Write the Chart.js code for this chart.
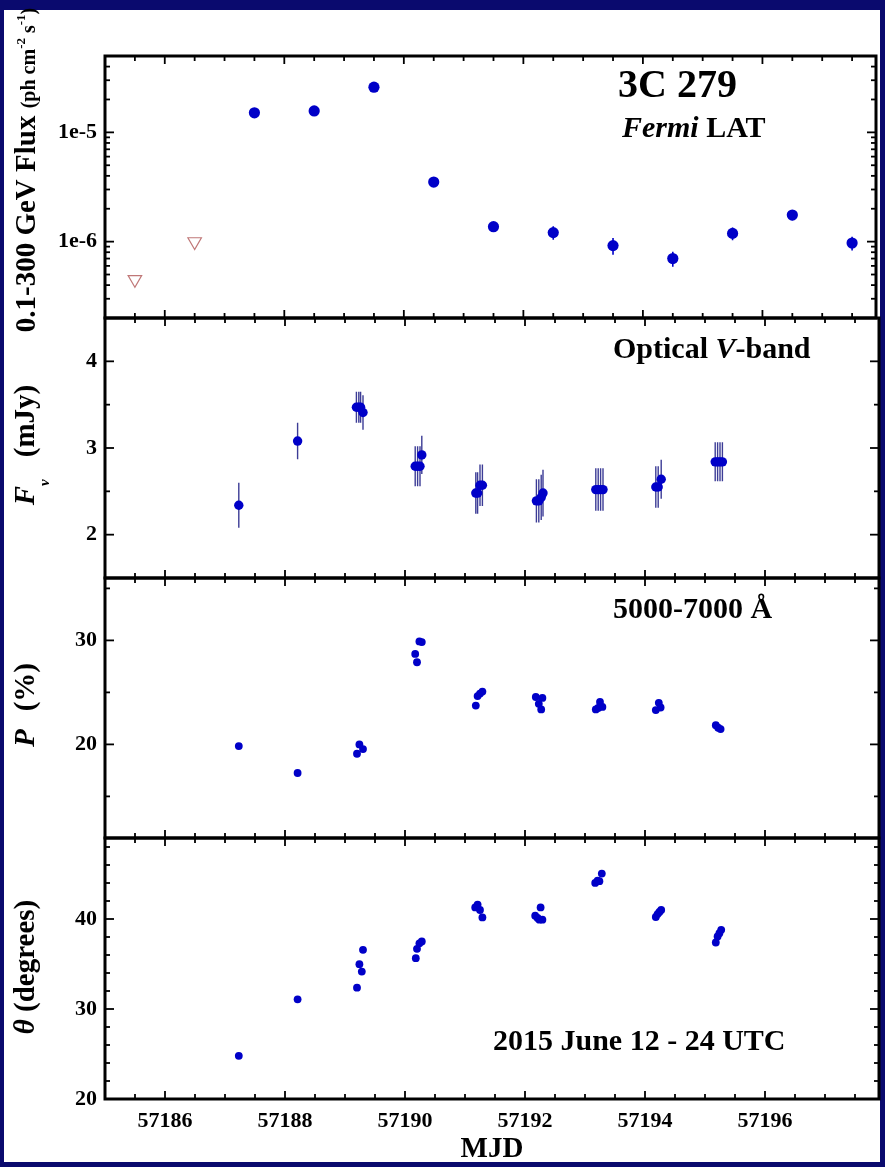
<!DOCTYPE html>
<html><head><meta charset="utf-8">
<script src="https://cdn.jsdelivr.net/npm/chart.js@4.4.1/dist/chart.umd.min.js"></script>
<style>
html,body{margin:0;padding:0;background:#0a0a6e;width:885px;height:1167px;overflow:hidden;}
#paper{position:absolute;left:4px;top:10px;width:876px;height:1152px;background:#fff;}
canvas{position:absolute;left:0;top:0;}
</style></head><body>
<div id="paper"></div>
<canvas id="c1" width="885" height="1167"></canvas>
<canvas id="c2" width="885" height="1167"></canvas>
<canvas id="c3" width="885" height="1167"></canvas>
<canvas id="c4" width="885" height="1167"></canvas>
<script>
// ---------------- data ----------------
const xTickValues = [57186, 57188, 57190, 57192, 57194, 57196];

const fermiMJD  = [57187.5, 57188.5, 57189.5, 57190.5, 57191.5, 57192.5, 57193.5, 57194.5, 57195.5, 57196.5, 57197.5];
const fermiFlux = [1.51e-5, 1.57e-5, 2.59e-5, 3.51e-6, 1.37e-6, 1.21e-6, 9.2e-7, 7.0e-7, 1.19e-6, 1.75e-6, 9.7e-7];
const fermiErr  = [0.08e-5, 0.08e-5, 0.12e-5, 0.25e-6, 0.12e-6, 0.17e-6, 0.16e-6, 0.11e-6, 0.16e-6, 0.18e-6, 0.14e-6];
const ulMJD  = [57185.5, 57186.5];
const ulFlux = [4.5e-7, 1.0e-6];
const fluxTicks = [1e-6, 1e-5];

const optMJD  = [57187.23, 57188.21, 57189.19, 57189.23, 57189.26, 57189.30, 57190.17, 57190.21, 57190.25, 57190.28,
                 57191.18, 57191.21, 57191.25, 57191.29, 57192.19, 57192.23, 57192.27, 57192.30, 57193.18, 57193.22,
                 57193.26, 57193.30, 57194.18, 57194.22, 57194.27, 57195.17, 57195.21, 57195.25, 57195.29];
const optFlux = [2.34, 3.08, 3.47, 3.47, 3.47, 3.41, 2.79, 2.79, 2.79, 2.92,
                 2.48, 2.48, 2.57, 2.57, 2.39, 2.39, 2.43, 2.48, 2.52, 2.52,
                 2.52, 2.52, 2.55, 2.55, 2.64, 2.84, 2.84, 2.84, 2.84];
const optErr  = [0.26, 0.21, 0.18, 0.18, 0.18, 0.20, 0.23, 0.23, 0.23, 0.22,
                 0.24, 0.24, 0.24, 0.24, 0.25, 0.25, 0.26, 0.27, 0.245, 0.245,
                 0.245, 0.245, 0.24, 0.24, 0.225, 0.225, 0.225, 0.225, 0.225];
const optTicks = [2, 3, 4];

const polMJD = [57187.23, 57188.21, 57189.20, 57189.24, 57189.30, 57190.17, 57190.20, 57190.24, 57190.28,
                57191.18, 57191.21, 57191.25, 57191.29, 57192.18, 57192.23, 57192.27, 57192.29,
                57193.18, 57193.22, 57193.25, 57193.29, 57194.18, 57194.23, 57194.26, 57195.18, 57195.22, 57195.26];
const polP   = [19.84, 17.25, 19.1, 20.0, 19.55, 28.7, 27.9, 29.9, 29.84,
                23.73, 24.65, 24.89, 25.08, 24.56, 23.9, 23.36, 24.47,
                23.36, 23.5, 24.08, 23.6, 23.3, 24.0, 23.55, 21.85, 21.6, 21.47];
const polTicks = [20, 30];

const paMJD   = [57187.23, 57188.21, 57189.20, 57189.24, 57189.28, 57189.30, 57190.18, 57190.20, 57190.24, 57190.28,
                 57191.17, 57191.21, 57191.25, 57191.29, 57192.17, 57192.21, 57192.24, 57192.26, 57192.29,
                 57193.17, 57193.21, 57193.24, 57193.28, 57194.18, 57194.21, 57194.24, 57194.27,
                 57195.18, 57195.21, 57195.24, 57195.27];
const paTheta = [24.8, 31.08, 32.37, 34.98, 34.16, 36.58, 35.65, 36.69, 37.3, 37.5,
                 41.29, 41.6, 41.0, 40.18, 40.37, 40.11, 39.92, 41.29, 39.92,
                 44.01, 44.27, 44.2, 45.05, 40.22, 40.55, 40.78, 41.0,
                 37.39, 38.06, 38.43, 38.8];
const paTicks = [20, 30, 40];

// ---------------- helpers ----------------
const FAM = '"Liberation Serif", "Times New Roman", serif';
const f = (sz, it) => (it ? 'italic ' : '') + 'bold ' + sz + 'px ' + FAM;
const BLUE = '#0000c8';
const tickFont = {family: FAM, weight: 'bold', size: 22};

const pts = (xs, ys) => xs.map((x, i) => ({x: x, y: ys[i]}));
function errSegs(xs, ys, es) {
  const out = [];
  xs.forEach((x, i) => { out.push({x: x, y: ys[i] - es[i]}, {x: x, y: ys[i] + es[i]}, {x: x, y: null}); });
  return out;
}
function richWidth(ctx, segs) {
  let w = 0;
  segs.forEach(s => { ctx.font = s.font; w += ctx.measureText(s.t).width + (s.gap || 0); });
  return w;
}
function drawRich(ctx, segs, x, y) {
  let cx = x;
  segs.forEach(s => { ctx.font = s.font; ctx.fillText(s.t, cx, y + (s.dy || 0)); cx += ctx.measureText(s.t).width + (s.gap || 0); });
}

const decorPlugin = {
  id: 'decor',
  afterDraw(chart, args, o) {
    const ctx = chart.ctx, a = chart.chartArea, xs = chart.scales.x, ys = chart.scales.y;
    ctx.save();
    ctx.strokeStyle = '#000';
    ctx.lineCap = 'butt';
    const line = (x1, y1, x2, y2) => { ctx.beginPath(); ctx.moveTo(x1, y1); ctx.lineTo(x2, y2); ctx.stroke(); };
    ctx.lineWidth = 1.8;
    for (let v = 57185.5; v < 57197.9; v += 0.5) {
      const len = xTickValues.includes(v) ? 8 : 5;
      const px = xs.getPixelForValue(v);
      line(px, a.top, px, a.top + len);
      line(px, a.bottom, px, a.bottom - len);
    }
    o.yMajor.forEach(v => { const py = ys.getPixelForValue(v); line(a.left, py, a.left + 9, py); line(a.right, py, a.right - 9, py); });
    o.yMinor.forEach(v => { const py = ys.getPixelForValue(v); line(a.left, py, a.left + 5, py); line(a.right, py, a.right - 5, py); });
    ctx.lineWidth = 3;
    ctx.strokeRect(a.left, a.top, a.right - a.left, a.bottom - a.top);
    ctx.fillStyle = '#000';
    ctx.textBaseline = 'alphabetic';
    ctx.textAlign = 'left';
    (o.notes || []).forEach(n => drawRich(ctx, n.segs, n.x, n.y));
    if (o.title) {
      const w = richWidth(ctx, o.title.segs);
      ctx.save();
      ctx.translate(o.title.x, o.title.cy);
      ctx.rotate(-Math.PI / 2);
      drawRich(ctx, o.title.segs, -w / 2, 0);
      ctx.restore();
    }
    if (o.xTitle) {
      ctx.font = f(29);
      ctx.textAlign = 'center';
      ctx.fillText(o.xTitle, o.xTitleX, o.xTitleY);
    }
    ctx.restore();
  }
};

function makeChart(id, p) {
  return new Chart(document.getElementById(id), {
    type: 'scatter',
    data: {datasets: p.datasets},
    options: {
      responsive: false, animation: false, devicePixelRatio: 1,
      layout: {padding: {left: 0, right: 6, top: p.top, bottom: p.showX ? 0 : 1167 - p.bottom}},
      plugins: {legend: {display: false}, tooltip: {enabled: false}, decor: p.decor},
      scales: {
        x: {
          type: 'linear', min: 57185, max: 57197.9, display: !!p.showX, position: 'bottom',
          grid: {display: false, drawTicks: false}, border: {display: false},
          ticks: {font: tickFont, color: '#000', padding: 9, maxRotation: 0, autoSkip: false, callback: v => String(v)},
          afterBuildTicks: s => { s.ticks = xTickValues.map(v => ({value: v})); },
          afterFit: s => { s.height = p.showX ? 1167 - p.bottom : 0; }
        },
        y: {
          type: p.yType, min: p.min, max: p.max, position: 'left',
          grid: {display: false, drawTicks: false}, border: {display: false},
          ticks: {font: tickFont, color: '#000', padding: 8, autoSkip: false, callback: p.fmt},
          afterBuildTicks: s => { s.ticks = p.yTicks.map(v => ({value: v})); },
          afterFit: s => { s.width = 105; }
        }
      }
    },
    plugins: [decorPlugin]
  });
}

const fluxMinor = [];
for (let d = -7; d <= -5; d++) for (let m = 2; m <= 9; m++) { const v = m * Math.pow(10, d); if (v > 2.05e-7 && v < 4.95e-5) fluxMinor.push(v); }
const optMinor = [2.5, 3.5];
const polMinor = [15, 25, 35];
const paMinor = [22, 24, 26, 28, 32, 34, 36, 38, 42, 44, 46, 48];

makeChart('c1', {
  top: 56, bottom: 318, yType: 'logarithmic', min: 2e-7, max: 5e-5, yTicks: fluxTicks,
  fmt: v => '1e' + Math.round(Math.log10(v)),
  datasets: [
    {data: pts(fermiMJD, fermiFlux), pointRadius: 5.6, pointBackgroundColor: BLUE, pointBorderColor: BLUE, pointBorderWidth: 0, showLine: false},
    {data: pts(ulMJD, ulFlux), pointStyle: 'triangle', rotation: 180, pointRadius: 7.8, pointBackgroundColor: 'rgba(255,255,255,0)', pointBorderColor: '#c07878', pointBorderWidth: 1.2, showLine: false},
    {data: errSegs(fermiMJD, fermiFlux, fermiErr), showLine: true, spanGaps: false, pointRadius: 0, borderColor: BLUE, borderWidth: 1.6}
  ],
  decor: {
    yMajor: fluxTicks, yMinor: fluxMinor,
    notes: [
      {segs: [{t: '3C 279', font: f(40)}], x: 618, y: 97},
      {segs: [{t: 'Fermi', font: f(30, true)}, {t: ' LAT', font: f(30)}], x: 622, y: 137}
    ],
    title: {x: 35, cy: 170, segs: [
      {t: '0.1-300 GeV Flux ', font: f(29)},
      {t: '(ph cm', font: f(20)},
      {t: '-2', font: f(13), dy: -10},
      {t: ' s', font: f(20)},
      {t: '-1', font: f(13), dy: -10},
      {t: ')', font: f(20)}
    ]}
  }
});

makeChart('c2', {
  top: 318, bottom: 578, yType: 'linear', min: 1.5, max: 4.5, yTicks: optTicks, fmt: v => String(v),
  datasets: [
    {data: pts(optMJD, optFlux), pointRadius: 4.7, pointBackgroundColor: BLUE, pointBorderColor: BLUE, pointBorderWidth: 0, showLine: false},
    {data: errSegs(optMJD, optFlux, optErr), showLine: true, spanGaps: false, pointRadius: 0, borderColor: '#3c3c96', borderWidth: 1.4}
  ],
  decor: {
    yMajor: optTicks, yMinor: optMinor,
    notes: [
      {segs: [{t: 'Optical ', font: f(30)}, {t: 'V', font: f(30, true)}, {t: '-band', font: f(30)}], x: 613, y: 358}
    ],
    title: {x: 34, cy: 445, segs: [
      {t: 'F', font: f(29, true)},
      {t: 'ν', font: f(15, true), dy: 15, gap: 22},
      {t: '(mJy)', font: f(29)}
    ]}
  }
});

makeChart('c3', {
  top: 578, bottom: 838, yType: 'linear', min: 11, max: 36, yTicks: polTicks, fmt: v => String(v),
  datasets: [
    {data: pts(polMJD, polP), pointRadius: 3.9, pointBackgroundColor: BLUE, pointBorderColor: BLUE, pointBorderWidth: 0, showLine: false}
  ],
  decor: {
    yMajor: polTicks, yMinor: polMinor,
    notes: [{segs: [{t: '5000-7000 Å', font: f(30)}], x: 613, y: 618}],
    title: {x: 34, cy: 705, segs: [
      {t: 'P', font: f(29, true), gap: 18},
      {t: '(%)', font: f(29)}
    ]}
  }
});

makeChart('c4', {
  top: 838, bottom: 1099, showX: true, yType: 'linear', min: 20, max: 49, yTicks: paTicks, fmt: v => String(v),
  datasets: [
    {data: pts(paMJD, paTheta), pointRadius: 3.9, pointBackgroundColor: BLUE, pointBorderColor: BLUE, pointBorderWidth: 0, showLine: false}
  ],
  decor: {
    yMajor: paTicks, yMinor: paMinor,
    notes: [{segs: [{t: '2015 June 12 - 24 UTC', font: f(30)}], x: 493, y: 1050}],
    title: {x: 34, cy: 967, segs: [
      {t: 'θ', font: f(29, true)},
      {t: ' (degrees)', font: f(29)}
    ]},
    xTitle: 'MJD', xTitleX: 492, xTitleY: 1157
  }
});
</script>
</body></html>
